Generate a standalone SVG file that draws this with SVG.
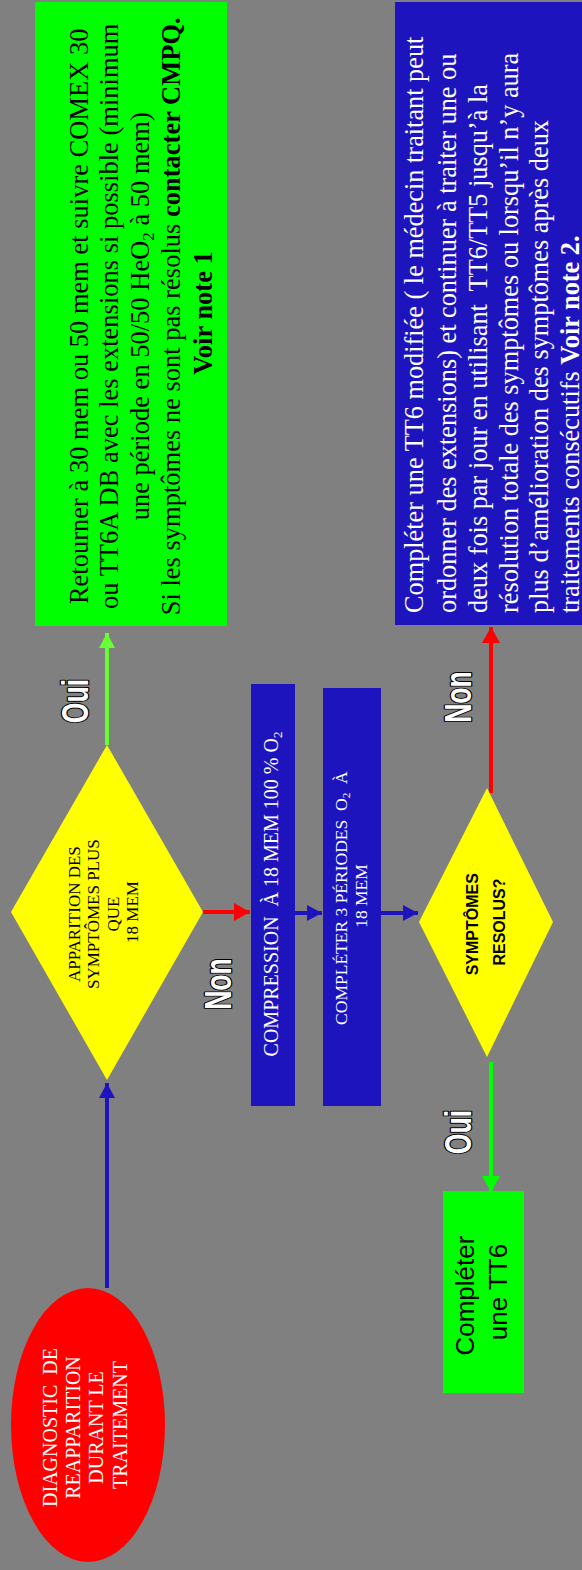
<svg xmlns="http://www.w3.org/2000/svg" width="582" height="1570" viewBox="0 0 582 1570">
<defs>
<style>
.serif{font-family:"Liberation Serif","Times New Roman",serif}
.sans{font-family:"Liberation Sans",Arial,sans-serif}
.wt{fill:#ffffff}
.bk{fill:#000000}
.lbl{font-family:"Liberation Sans",Arial,sans-serif;font-weight:bold;font-size:37px;fill:#ffffff;stroke:#000000;stroke-width:2.5;paint-order:stroke;stroke-linejoin:round;text-anchor:middle}
.blue{fill:#1E14BE}
.conn{fill:none;stroke-width:4}
</style>
<marker id="ah-blue" markerUnits="userSpaceOnUse" markerWidth="16" markerHeight="16" refX="15" refY="8" orient="auto"><path d="M0,0 L15,8 L0,16 z" fill="#1E14BE"/></marker>
<marker id="ah-red" markerUnits="userSpaceOnUse" markerWidth="16" markerHeight="18" refX="16" refY="9" orient="auto"><path d="M0,0 L16,9 L0,18 z" fill="#FF0000"/></marker>
<marker id="ah-green" markerUnits="userSpaceOnUse" markerWidth="16" markerHeight="18" refX="16" refY="9" orient="auto"><path d="M0,0 L16,9 L0,18 z" fill="#00FF00"/></marker>
<marker id="ah-lgreen" markerUnits="userSpaceOnUse" markerWidth="16" markerHeight="16" refX="15" refY="8" orient="auto"><path d="M0,0 L15,8 L0,16 z" fill="#66FF33"/></marker>
</defs>
<rect x="0" y="0" width="582" height="1570" fill="#808080"/>

<g id="connectors">
<line class="conn" x1="107" y1="1288" x2="107" y2="1083" stroke="#1E14BE" marker-end="url(#ah-blue)"/>
<line class="conn" x1="107" y1="745" x2="107" y2="633" stroke="#66FF33" marker-end="url(#ah-lgreen)"/>
<line class="conn" x1="203" y1="912" x2="250" y2="912" stroke="#FF0000" marker-end="url(#ah-red)"/>
<line class="conn" x1="295" y1="913" x2="322" y2="913" stroke="#1E14BE" marker-end="url(#ah-blue)"/>
<line class="conn" x1="381" y1="913" x2="418" y2="913" stroke="#1E14BE" marker-end="url(#ah-blue)"/>
<line class="conn" x1="491" y1="793" x2="491" y2="627" stroke="#FF0000" stroke-width="5" marker-end="url(#ah-red)"/>
<line class="conn" x1="491" y1="1062" x2="491" y2="1192" stroke="#00FF00" stroke-width="5" marker-end="url(#ah-green)"/>
</g>

<g id="labels">
<text class="lbl" transform="translate(88,701) rotate(-90) scale(0.72,1)">Oui</text>
<text class="lbl" transform="translate(231,984) rotate(-90) scale(0.72,1)">Non</text>
<text class="lbl" transform="translate(471,697) rotate(-90) scale(0.72,1)">Non</text>
<text class="lbl" transform="translate(471,1132) rotate(-90) scale(0.72,1)">Oui</text>
</g>

<g id="node-diagnostic">
<ellipse cx="88" cy="1425" rx="77" ry="137" fill="#FF0000"/>
<text class="serif wt" font-size="20" text-anchor="middle" transform="translate(0,1425) rotate(-90)">
<tspan x="0" y="57">DIAGNOSTIC&#160; DE</tspan>
<tspan x="0" y="80">REAPPARITION</tspan>
<tspan x="0" y="103">DURANT LE</tspan>
<tspan x="0" y="127">TRAITEMENT</tspan>
</text>
</g>

<g id="node-apparition">
<polygon points="107,745 203,912 107,1080 11,912" fill="#FFFF00"/>
<text class="serif bk" font-size="17" text-anchor="middle" transform="translate(0,912) rotate(-90)">
<tspan x="0" y="80">APPARITION DES</tspan>
<tspan x="0" y="99">SYMPTÔMES PLUS</tspan>
<tspan x="0" y="119">QUE</tspan>
<tspan x="0" y="138">18 MEM</tspan>
</text>
</g>

<g id="node-retourner">
<rect x="35" y="2" width="192" height="624" fill="#00FF00"/>
<text class="serif bk" font-size="26.5" text-anchor="middle" transform="translate(0,313) rotate(-90)">
<tspan x="0" y="88">Retourner à 30 mem ou 50 mem et suivre COMEX 30</tspan>
<tspan x="0" y="118">ou TT6A DB avec les extensions si possible (minimum</tspan>
<tspan x="0" y="149">une période en 50/50 HeO<tspan font-size="17" dy="5">2</tspan><tspan dy="-5"> à 50 mem)</tspan></tspan>
<tspan x="0" y="180">Si les symptômes ne sont pas résolus <tspan font-weight="bold">contacter CMPQ.</tspan></tspan>
<tspan x="0" y="212" font-weight="bold">Voir note 1</tspan>
</text>
</g>

<g id="node-compression">
<rect class="blue" x="251" y="684" width="44" height="422"/>
<text class="serif wt" font-size="20" text-anchor="middle" transform="translate(0,894) rotate(-90)">
<tspan x="0" y="278">COMPRESSION&#160; À 18 MEM 100 % O<tspan font-size="13" dy="4">2</tspan></tspan>
</text>
</g>

<g id="node-periodes">
<rect class="blue" x="323" y="688" width="58" height="418"/>
<text class="serif wt" font-size="17.5" text-anchor="middle" transform="translate(0,896) rotate(-90)">
<tspan x="0" y="347">COMPLÉTER 3 PÉRIODES&#160; O<tspan font-size="11" dy="3">2</tspan><tspan dy="-3">&#160; À</tspan></tspan>
<tspan x="0" y="367">18 MEM</tspan>
</text>
</g>

<g id="node-resolus">
<polygon points="487,788 553,922 487,1057 419,922" fill="#FFFF00"/>
<text class="sans bk" font-size="16" font-weight="bold" text-anchor="middle" transform="translate(0,922) rotate(-90)">
<tspan x="0" y="478">SYMPTÔMES</tspan>
<tspan x="0" y="505">RESOLUS?</tspan>
</text>
</g>

<g id="node-tt6-modifiee">
<rect class="blue" x="395" y="2" width="190" height="623"/>
<text class="serif wt" font-size="26.3" text-anchor="start" transform="translate(0,613) rotate(-90)">
<tspan x="0" y="423">Compléter une TT6 modifiée ( le médecin traitant peut</tspan>
<tspan x="0" y="456">ordonner des extensions) et continuer à traiter une ou</tspan>
<tspan x="0" y="487">deux fois par jour en utilisant&#160; TT6/TT5 jusqu’à la</tspan>
<tspan x="0" y="518">résolution totale des symptômes ou lorsqu’il n’y aura</tspan>
<tspan x="0" y="548">plus d’amélioration des symptômes après deux</tspan>
<tspan x="0" y="579">traitements consécutifs <tspan font-weight="bold">Voir note 2.</tspan></tspan>
</text>
</g>

<g id="node-completer-tt6">
<rect x="443" y="1191" width="81" height="202" fill="#00FF00"/>
<text class="sans bk" font-size="26" text-anchor="middle" transform="translate(0,1292) rotate(-90)">
<tspan x="0" y="474">Compléter</tspan>
<tspan x="0" y="507">une TT6</tspan>
</text>
</g>
</svg>
